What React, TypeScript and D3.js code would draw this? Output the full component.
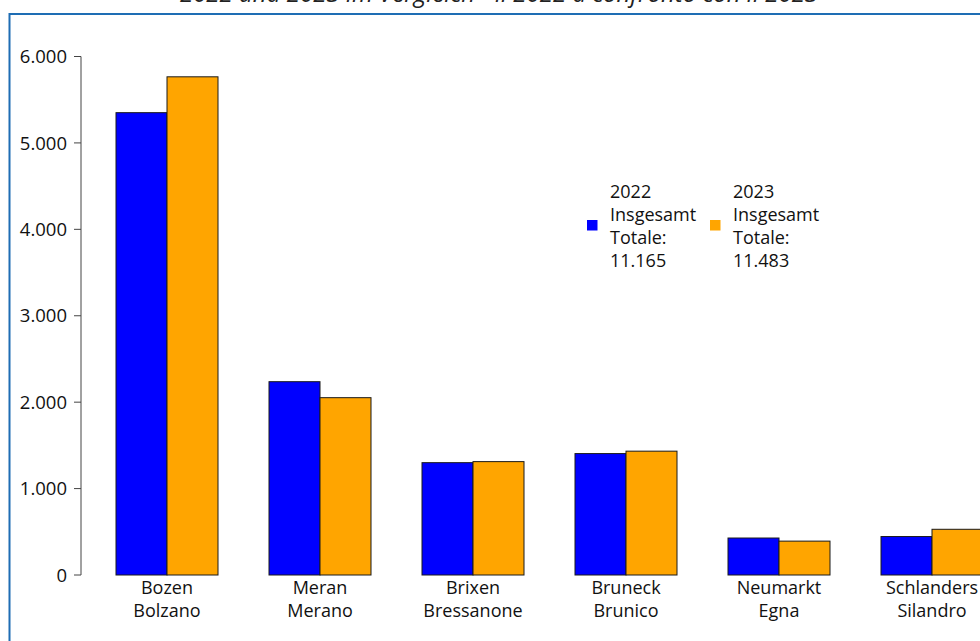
import React from "react";
import * as d3 from "d3";

const categories = [
  ["Bozen", "Bolzano"],
  ["Meran", "Merano"],
  ["Brixen", "Bressanone"],
  ["Bruneck", "Brunico"],
  ["Neumarkt", "Egna"],
  ["Schlanders", "Silandro"],
];
const seriesNames = ["2022", "2023"];
const values2022 = [5350, 2237, 1300, 1405, 428, 445];
const values2023 = [5765, 2052, 1312, 1433, 392, 529];
const totals = ["11.165", "11.483"];
const colors = ["#0000ff", "#ffa500"];
const yTicks = [0, 1000, 2000, 3000, 4000, 5000, 6000];
const title = "2022 und 2023 im Vergleich - il 2022 a confronto con il 2023";

const FONT = "'Open Sans', sans-serif";

export default function App() {
  const W = 980, H = 641;
  const y = d3.scaleLinear().domain([0, 6000]).range([575, 56.5]);
  const keys = categories.map((c) => c[0]);
  const x = d3.scaleBand<string>().domain(keys).range([90.5, 90.5 + 6 * 153]).paddingInner(1 / 3).paddingOuter(1 / 6);
  const xs = d3.scaleBand<string>().domain(seriesNames).range([0, x.bandwidth()]);
  const fmt = (v: number) => d3.format(",")(v).replace(/,/g, ".");
  const series = [values2022, values2023];
  const axisX = 81;

  return (
    <svg width={W} height={H} style={{ position: "absolute", left: 0, top: 0 }} fontFamily={FONT}>
      <rect x={0} y={0} width={W} height={H} fill="#fff" />
      <text x={499} y={2} textAnchor="middle" fontSize={24} fontStyle="italic" fill="#222">{title}</text>
      <path d={`M9.5,${H} V14 H${W}`} fill="none" stroke="#1e6db4" strokeWidth={2} />

      {/* bars */}
      {series.map((vals, si) =>
        vals.map((v, i) => (
          <rect
            key={`${si}-${i}`}
            x={(x(keys[i]) as number) + (xs(seriesNames[si]) as number)}
            y={y(v)}
            width={xs.bandwidth()}
            height={y(0) - y(v)}
            fill={colors[si]}
            stroke="#1a1a1a"
            strokeWidth={1}
          />
        ))
      )}

      {/* y axis */}
      <line x1={axisX} x2={axisX} y1={y(6000)} y2={y(0)} stroke="#444" strokeWidth={1} />
      {yTicks.map((t) => (
        <g key={t}>
          <line x1={axisX - 7} x2={axisX} y1={y(t)} y2={y(t)} stroke="#444" strokeWidth={1} />
          <text x={67} y={y(t)} dy="0.36em" textAnchor="end" fontSize={18.5} fill="#111">{fmt(t)}</text>
        </g>
      ))}

      {/* x labels */}
      {categories.map((c) => (
        <text key={c[0]} x={(x(c[0]) as number) + x.bandwidth() / 2} textAnchor="middle" fontSize={18} fill="#111">
          <tspan x={(x(c[0]) as number) + x.bandwidth() / 2} y={594}>{c[0]}</tspan>
          <tspan x={(x(c[0]) as number) + x.bandwidth() / 2} y={617}>{c[1]}</tspan>
        </text>
      ))}

      {/* legend */}
      {seriesNames.map((s, i) => {
        const lx = 587 + i * 123;
        return (
          <g key={s}>
            <rect x={lx} y={220} width={10.5} height={10.5} fill={colors[i]} />
            <text fontSize={18} fill="#111">
              {[s, "Insgesamt", "Totale:", totals[i]].map((line, j) => (
                <tspan key={j} x={lx + 23} y={198 + j * 23}>{line}</tspan>
              ))}
            </text>
          </g>
        );
      })}
    </svg>
  );
}
